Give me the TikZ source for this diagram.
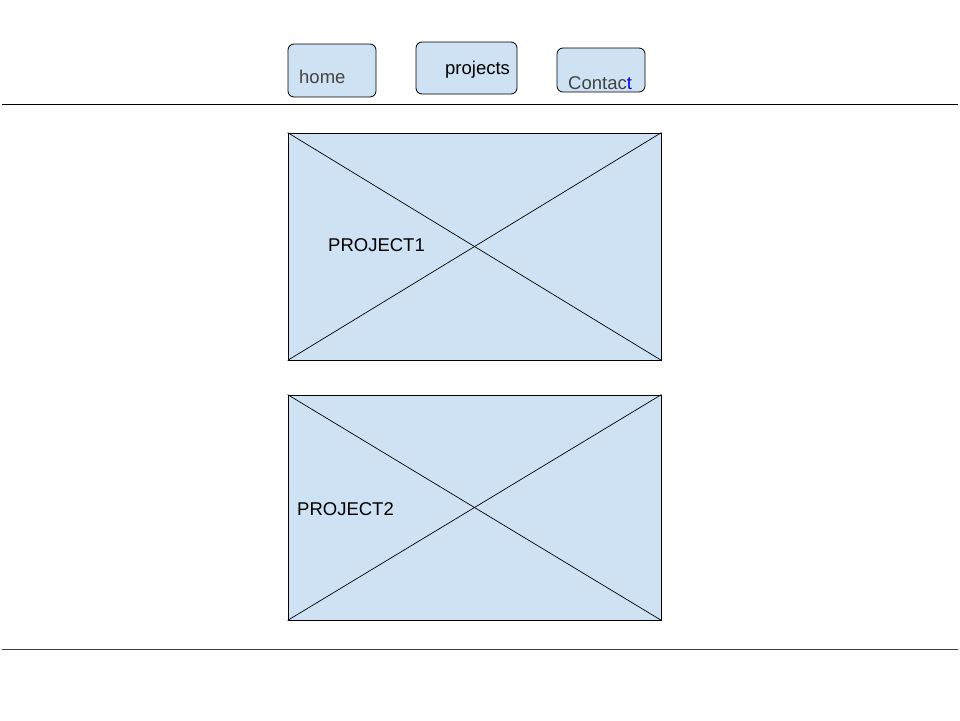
\documentclass[tikz,border=0pt]{standalone}
\usepackage{fontspec}
\setmainfont{Liberation Sans}
\usetikzlibrary{positioning}
\definecolor{boxblue}{HTML}{CFE2F3}
\definecolor{textgray}{HTML}{434343}
\definecolor{textblue}{HTML}{0000FF}
\tikzset{
    navbtn/.style={draw, fill=boxblue, rounded corners=6pt, line width=0.8pt, inner sep=0pt},
    projbox/.style={draw, fill=boxblue, line width=0.8pt, inner sep=0pt},
    cross/.style={line width=0.7pt},
    lbl/.style={anchor=west, inner sep=0pt, font=\fontsize{18.5}{20}\selectfont}
}
\begin{document}
\begin{tikzpicture}[x=1pt,y=-1pt]
    % Cadre
    \useasboundingbox (0,0) rectangle (960,720);

    %
    % Menu
    %
    \node[navbtn, minimum width=88pt, minimum height=53pt] (home) at (332,70.5) {};
    \node[navbtn, minimum width=101pt, minimum height=52pt] (projects) at (466.5,68) {};
    \node[navbtn, minimum width=88pt, minimum height=44pt] (contact) at (601,70) {};

    \node[lbl, text=textgray] (homelbl) at (299,77) {home};
    \node[lbl] (projectslbl) at (445,70) {projects};
    \node[lbl, text=textgray] (contactlbl) at (568,83) {Contac\textcolor{textblue}{t}};

    % Séparateurs
    \coordinate (topl) at (2,104);
    \coordinate (topr) at (958,104);
    \coordinate (botl) at (2,649);
    \coordinate (botr) at (958,649);
    \draw[line width=0.8pt] (topl) -- (topr);
    \draw[line width=0.8pt, black!75] (botl) -- (botr);

    %
    % Projets
    %
    \node[projbox, minimum width=373pt, minimum height=227pt] (proj1) at (474.5,246.5) {};
    \node[projbox, minimum width=373pt, minimum height=225pt] (proj2) at (474.5,507.5) {};

    \draw[cross] (proj1.north west) -- (proj1.south east);
    \draw[cross] (proj1.south west) -- (proj1.north east);
    \draw[cross] (proj2.north west) -- (proj2.south east);
    \draw[cross] (proj2.south west) -- (proj2.north east);

    \node[lbl] (proj1lbl) at (328,245) {PROJECT1};
    \node[lbl] (proj2lbl) at (297,509) {PROJECT2};

\end{tikzpicture}
\end{document}
